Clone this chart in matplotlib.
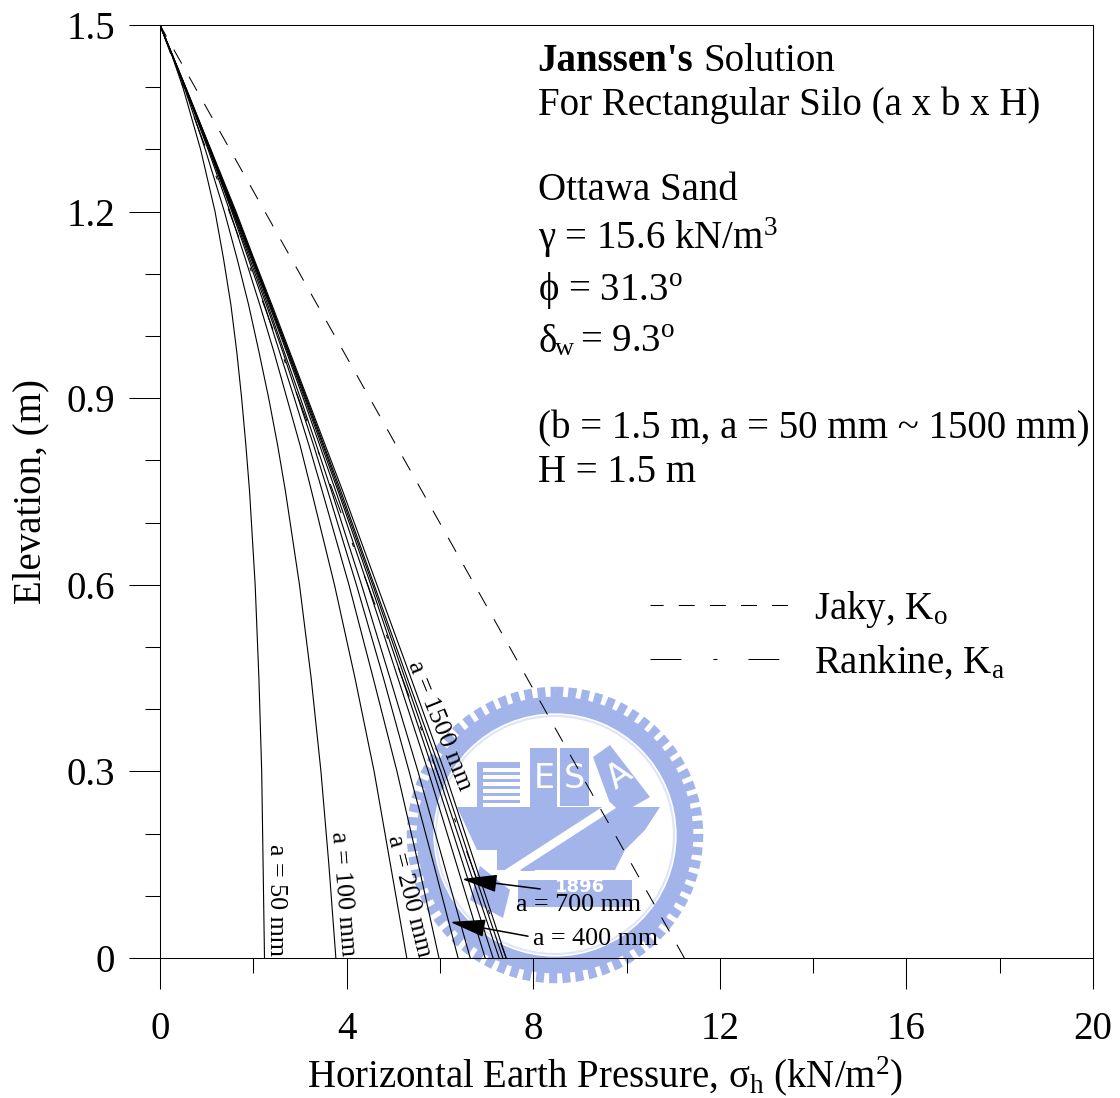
import matplotlib
matplotlib.use("Agg")
import matplotlib.pyplot as plt
from matplotlib.patches import Circle, Polygon, Rectangle
from matplotlib.transforms import Affine2D

plt.rcParams['font.family'] = ['Liberation Serif', 'DejaVu Serif']
plt.rcParams['mathtext.fontset'] = 'custom'
plt.rcParams['mathtext.rm'] = 'Liberation Serif'
plt.rcParams['mathtext.it'] = 'Liberation Serif:italic'
plt.rcParams['mathtext.bf'] = 'Liberation Serif:bold'
plt.rcParams['lines.scale_dashes'] = False

# values
elevation = [1.5, 1.45, 1.4, 1.3, 1.2, 1.125, 1.05, 0.975, 0.9, 0.825, 0.75, 0.6, 0.45, 0.3, 0.15, 0.0]
a_50 = [0, 0.26, 0.49, 0.87, 1.18, 1.36, 1.52, 1.645, 1.75, 1.84, 1.92, 2.04, 2.12, 2.18, 2.21, 2.24]
a_100 = [0, 0.27, 0.52, 0.97, 1.38, 1.65, 1.90, 2.12, 2.33, 2.52, 2.69, 2.99, 3.24, 3.45, 3.62, 3.77]
a_200 = [0, 0.27, 0.53, 1.03, 1.50, 1.825, 2.14, 2.44, 2.72, 3.00, 3.25, 3.74, 4.18, 4.59, 4.94, 5.29]
a_300 = [0, 0.27, 0.54, 1.05, 1.54, 1.89, 2.24, 2.56, 2.88, 3.19, 3.48, 4.05, 4.57, 5.08, 5.54, 5.98]
a_400 = [0, 0.27, 0.54, 1.06, 1.56, 1.92, 2.28, 2.63, 2.96, 3.29, 3.60, 4.21, 4.79, 5.34, 5.87, 6.39]
a_500 = [0, 0.27, 0.54, 1.07, 1.57, 1.95, 2.31, 2.66, 3.01, 3.35, 3.68, 4.32, 4.93, 5.53, 6.09, 6.65]
a_700 = [0, 0.27, 0.54, 1.07, 1.59, 1.97, 2.34, 2.71, 3.07, 3.42, 3.77, 4.45, 5.10, 5.75, 6.36, 6.97]
a_900 = [0, 0.27, 0.54, 1.07, 1.60, 1.98, 2.36, 2.73, 3.10, 3.46, 3.82, 4.52, 5.19, 5.86, 6.50, 7.14]
a_1100 = [0, 0.27, 0.54, 1.08, 1.60, 1.99, 2.37, 2.75, 3.12, 3.49, 3.85, 4.56, 5.25, 5.94, 6.60, 7.27]
a_1300 = [0, 0.27, 0.55, 1.08, 1.61, 1.99, 2.38, 2.76, 3.14, 3.51, 3.88, 4.59, 5.30, 6.02, 6.68, 7.35]
a_1500 = [0, 0.28, 0.55, 1.09, 1.63, 2.01, 2.40, 2.78, 3.16, 3.54, 3.92, 4.65, 5.38, 6.10, 6.76, 7.42]
curves = [a_50, a_100, a_200, a_300, a_400, a_500, a_700, a_900, a_1100, a_1300, a_1500]

line_elev = [1.5, 0.0]
jaky = [0, 11.24]
rankine = [0, 7.42]

x_major = [0, 4, 8, 12, 16, 20]
x_minor = [2, 6, 10, 14, 18]
y_major = [0, 0.3, 0.6, 0.9, 1.2, 1.5]
y_minor = [0.1, 0.2, 0.4, 0.5, 0.7, 0.8, 1.0, 1.1, 1.3, 1.4]

note_lines = ["For Rectangular Silo (a x b x H)", "Ottawa Sand",
              "\u03b3 = 15.6 kN/m$^{3}$", "\u03d5 = 31.3$^{\\mathrm{o}}$",
              "(b = 1.5 m, a = 50 mm ~ 1500 mm)", "H = 1.5 m"]
note_base = [115, 200, 249, 300, 438, 482]

W, H = 1120, 1098
fs = 28
px = Affine2D().scale(1, -1).translate(0, H)  # reference pixel coords

fig = plt.figure(figsize=(W / 100, H / 100), dpi=100)
ax = fig.add_axes([160 / W, (H - 958) / H, 933 / W, 933 / H])
ax.set_xlim(0, 20)
ax.set_ylim(0, 1.5)

# watermark
blue = '#a3b4ea'
def wm(patch):
    patch.set_transform(px)
    patch.set_clip_on(False)
    patch.set_zorder(0.5)
    ax.add_patch(patch)

cx, cy = 555, 835
wm(Circle((cx, cy), 142, fill=False, ec=blue, lw=9, linestyle=(0, (5.8, 3.6)), capstyle='butt'))
wm(Circle((cx, cy), 130, fill=False, ec=blue, lw=12))
wm(Circle((cx, cy), 119, fill=False, ec='#dfe5f8', lw=1.5))
wm(Rectangle((477, 762), 43, 45, fc=blue, ec='none'))
for sy in range(768, 806, 7):
    wm(Rectangle((483, sy), 37, 3.5, fc='white', ec='none'))
wm(Rectangle((530, 748), 27, 59, fc=blue, ec='none'))
wm(Rectangle((560, 748), 29, 58, fc=blue, ec='none'))
wm(Polygon([(593, 757), (610, 745), (650, 797), (615, 817)], fc=blue, ec='none'))
wm(Polygon([(457, 807), (660, 807), (645, 830), (625, 850), (615, 870), (530, 870),
            (497, 870), (497, 850), (477, 850)], fc=blue, ec='none'))
wm(Polygon([(494, 877), (610, 802), (616, 808), (500, 883)], fc='white', ec='none'))
wm(Polygon([(520, 871), (606, 815), (609, 819), (534, 871)], fc=blue, ec='none'))
wm(Rectangle((518, 880), 114, 27, fc=blue, ec='none'))
wm(Polygon([(480, 866), (510, 890), (503, 918), (470, 900)], fc=blue, ec='none'))
for s, sx, sy, rot in [('E', 544, 778, 0), ('S', 574, 778, 0), ('A', 620, 776, 35)]:
    ax.text(sx, sy, s, transform=px, color='white', fontsize=24, ha='center', va='center',
            rotation=rot, family='DejaVu Sans', zorder=0.6, clip_on=False)
ax.text(580, 887, '1896', transform=px, color='white', fontsize=13, ha='center', va='center',
        family='DejaVu Sans', weight='bold', zorder=0.6)

for c in curves:
    ax.plot(c, elevation, color='black', lw=0.8, zorder=2)
ax.plot(jaky, line_elev, color='black', lw=0.75, linestyle=(2.05, (11.5, 10.9)), label='Jaky, K$_{\\mathrm{o}}$', zorder=2)
ax.plot(rankine, line_elev, color='black', lw=0.75, linestyle=(0, (22.3, 23, 2.9, 22.3)),
        label='Rankine, K$_{\\mathrm{a}}$', zorder=2)

# ticks
ax.set_xticks(x_major)
ax.set_xticks(x_minor, minor=True)
ax.set_yticks(y_major)
ax.set_yticks(y_minor, minor=True)
ax.set_yticklabels(['0', '0.3', '0.6', '0.9', '1.2', '1.5'])
ax.tick_params(which='major', length=22.3, width=0.75, labelsize=fs)
ax.tick_params(which='minor', length=10.8, width=0.75)
ax.tick_params(axis='x', which='major', pad=16)
ax.tick_params(axis='y', which='major', pad=10)
for sp in ax.spines.values():
    sp.set_linewidth(0.75)

ax.set_xlabel('Horizontal Earth Pressure, \u03c3$_{\\mathrm{h}}$ (kN/m$^{2}$)', fontsize=fs, va='baseline')
ax.xaxis.set_label_coords((605 - 160) / 933, -(1087 - 958) / 933)
ax.set_ylabel('Elevation, (m)', fontsize=fs)
ax.yaxis.set_label_coords((49 - 160) / 933, 0.5)

# note block
ax.text(537, 71, "Janssen's", transform=px, fontsize=fs, weight='bold', va='baseline')
ax.text(703, 71, "Solution", transform=px, fontsize=fs, va='baseline')
for s, b in zip(note_lines, note_base):
    ax.text(538, b, s, transform=px, fontsize=fs, va='baseline')
ax.text(538, 352, "\u03b4", transform=px, fontsize=fs, va='baseline')
ax.text(555, 355, "w", transform=px, fontsize=19, va='baseline')
ax.text(580, 352, "= 9.3$^{\\mathrm{o}}$", transform=px, fontsize=fs, va='baseline')

ax.legend(loc='upper left', bbox_to_anchor=((650 - 160) / 933, (958 - 589) / 933), frameon=False,
          fontsize=fs, handlelength=3.6, handletextpad=0.62, labelspacing=0.36,
          borderpad=0, borderaxespad=0)

# curve labels
small = 18.7
ax.text(276, 900, 'a = 50 mm', transform=px, fontsize=small, rotation=-90, ha='center', va='center', rotation_mode='anchor')
ax.text(343, 894, 'a = 100 mm', transform=px, fontsize=small, rotation=-85.5, ha='center', va='center', rotation_mode='anchor')
ax.text(409, 896, 'a = 200 mm', transform=px, fontsize=small, rotation=-76, ha='center', va='center', rotation_mode='anchor')
ax.text(439, 726, 'a = 1500 mm', transform=px, fontsize=small, rotation=-68, ha='center', va='center', rotation_mode='anchor')
ax.text(516, 911, 'a = 700 mm', transform=px, fontsize=small, va='baseline')
ax.text(533, 945, 'a = 400 mm', transform=px, fontsize=small, va='baseline')

arrow = dict(arrowstyle='-|>,head_length=2.2,head_width=0.55', color='black', lw=1.1,
             shrinkA=0, shrinkB=0, mutation_scale=10)
ax.annotate('', xy=(6.47, 0.127), xytext=(8.15, 0.111), arrowprops=arrow)
ax.annotate('', xy=(6.22, 0.058), xytext=(7.89, 0.035), arrowprops=arrow)

fig.savefig('out.png', dpi=100)
